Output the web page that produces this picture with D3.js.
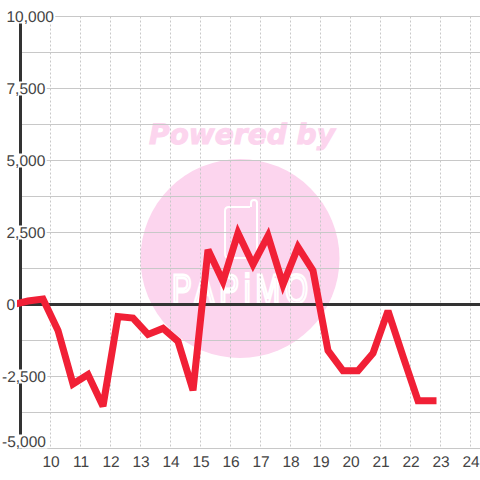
<!DOCTYPE html>
<html><head><meta charset="utf-8">
<style>html,body{margin:0;padding:0;background:#fff}svg{display:block}text{font-family:"Liberation Sans",Arial,sans-serif;text-rendering:geometricPrecision}</style>
<script src="https://cdn.jsdelivr.net/npm/d3@7"></script></head>
<body><svg id="c" width="480" height="480"></svg>
<script>
const hours=[8.75,9.25,9.75,10.25,10.75,11.25,11.75,12.25,12.75,13.25,13.75,14.25,14.75,15.25,15.75,16.25,16.75,17.25,17.75,18.25,18.75,19.25,19.75,20.25,20.75,21.25,21.75,22.25,22.75];
const values=[0,120,190,-900,-2760,-2430,-3530,-420,-470,-1040,-830,-1280,-2980,1900,800,2480,1390,2380,690,1990,1180,-1600,-2300,-2300,-1690,-220,-1800,-3340,-3340];
const xTicks=[10,11,12,13,14,15,16,17,18,19,20,21,22,23,24];
const yGrid=[10000,8750,7500,6250,5000,3750,2500,1250,0,-1250,-2500,-3750,-5000];
const yLabels=[10000,7500,5000,2500,0,-2500,-5000];

const svg=d3.select("#c");
const x=d3.scaleLinear().domain([9,24]).range([20.5,470.5]);
const y=d3.scaleLinear().domain([-5000,10000]).range([448.5,16.5]);

// watermark
svg.append("circle").attr("cx",240).attr("cy",258.5).attr("r",99.5).attr("fill","#fcd5ee");
svg.append("text").attr("x",149).attr("y",144).attr("textLength",186).attr("lengthAdjust","spacingAndGlyphs")
  .style("font-family","DejaVu Sans").style("font-weight","bold").style("font-style","italic").style("font-size","28px")
  .attr("fill","#fcd5ee").attr("stroke","#fcd5ee").attr("stroke-width",1).text("Powered by");
svg.append("path").attr("d","M250 207H229Q225 207 225 211V254Q225 258 229 258H253Q257 258 257 254V203Q257 200 254 200Q251 200 251 203V207")
  .attr("fill","none").attr("stroke","#fff").attr("stroke-width",2);
svg.append("text").attr("transform","translate(172,303) scale(0.72,1)").attr("textLength",189).attr("lengthAdjust","spacing")
  .style("font-size","41px")
  .attr("fill","none").attr("stroke","#fff").attr("stroke-width",2.8).text("PAPiMO");

// grid
svg.append("g").selectAll("line").data(yGrid).join("line")
  .attr("x1",20).attr("x2",480).attr("y1",d=>y(d)).attr("y2",d=>y(d))
  .attr("stroke","#c8c8c8").attr("stroke-width",1.2);
svg.append("g").selectAll("line").data(xTicks).join("line")
  .attr("x1",d=>x(d)).attr("x2",d=>x(d)).attr("y1",y(10000)).attr("y2",y(-5000))
  .attr("stroke","#c8c8c8").attr("stroke-width",1).attr("stroke-dasharray","2 2");

// axis lines
svg.append("line").attr("x1",x(9)).attr("x2",x(9)).attr("y1",y(10000)).attr("y2",y(-5000)).attr("stroke","#333").attr("stroke-width",3);
svg.append("line").attr("x1",x(9)).attr("x2",480).attr("y1",y(0)).attr("y2",y(0)).attr("stroke","#333").attr("stroke-width",3);

// series
svg.append("clipPath").attr("id","pc").append("rect").attr("x",17).attr("y",0).attr("width",463).attr("height",480);
const line=d3.line().x((d,i)=>x(hours[i])).y(d=>y(d));
svg.append("path").datum(values).attr("d",line).attr("clip-path","url(#pc)")
  .attr("fill","none").attr("stroke","#f12036").attr("stroke-width",7)
  .attr("stroke-linejoin","miter").attr("stroke-miterlimit",3).attr("stroke-linecap","square");

// labels
const fmt=d3.format(",");
const lab=svg.append("g").selectAll("g").data(yLabels).join("g");
lab.each(function(d){
  const g=d3.select(this), cy=Math.min(y(d),441.5), xl=d<0?2:6.5;
  const t=g.append("text").attr("x",xl).attr("y",cy).attr("dy","0.36em")
    .attr("font-size",15.5).attr("fill","#444").text(fmt(d).replace("−","-"));
  const b=t.node().getBBox();
  if(d!==0) g.insert("rect","text").attr("x",b.x-1).attr("y",cy-7).attr("width",b.width+2).attr("height",14).attr("fill","#fff");
});
svg.append("g").selectAll("text").data(xTicks).join("text")
  .attr("x",d=>x(d)+0.5).attr("y",461).attr("dy","0.36em").attr("text-anchor","middle")
  .attr("font-size",15.5).attr("fill","#444").text(d=>d);
</script></body></html>
